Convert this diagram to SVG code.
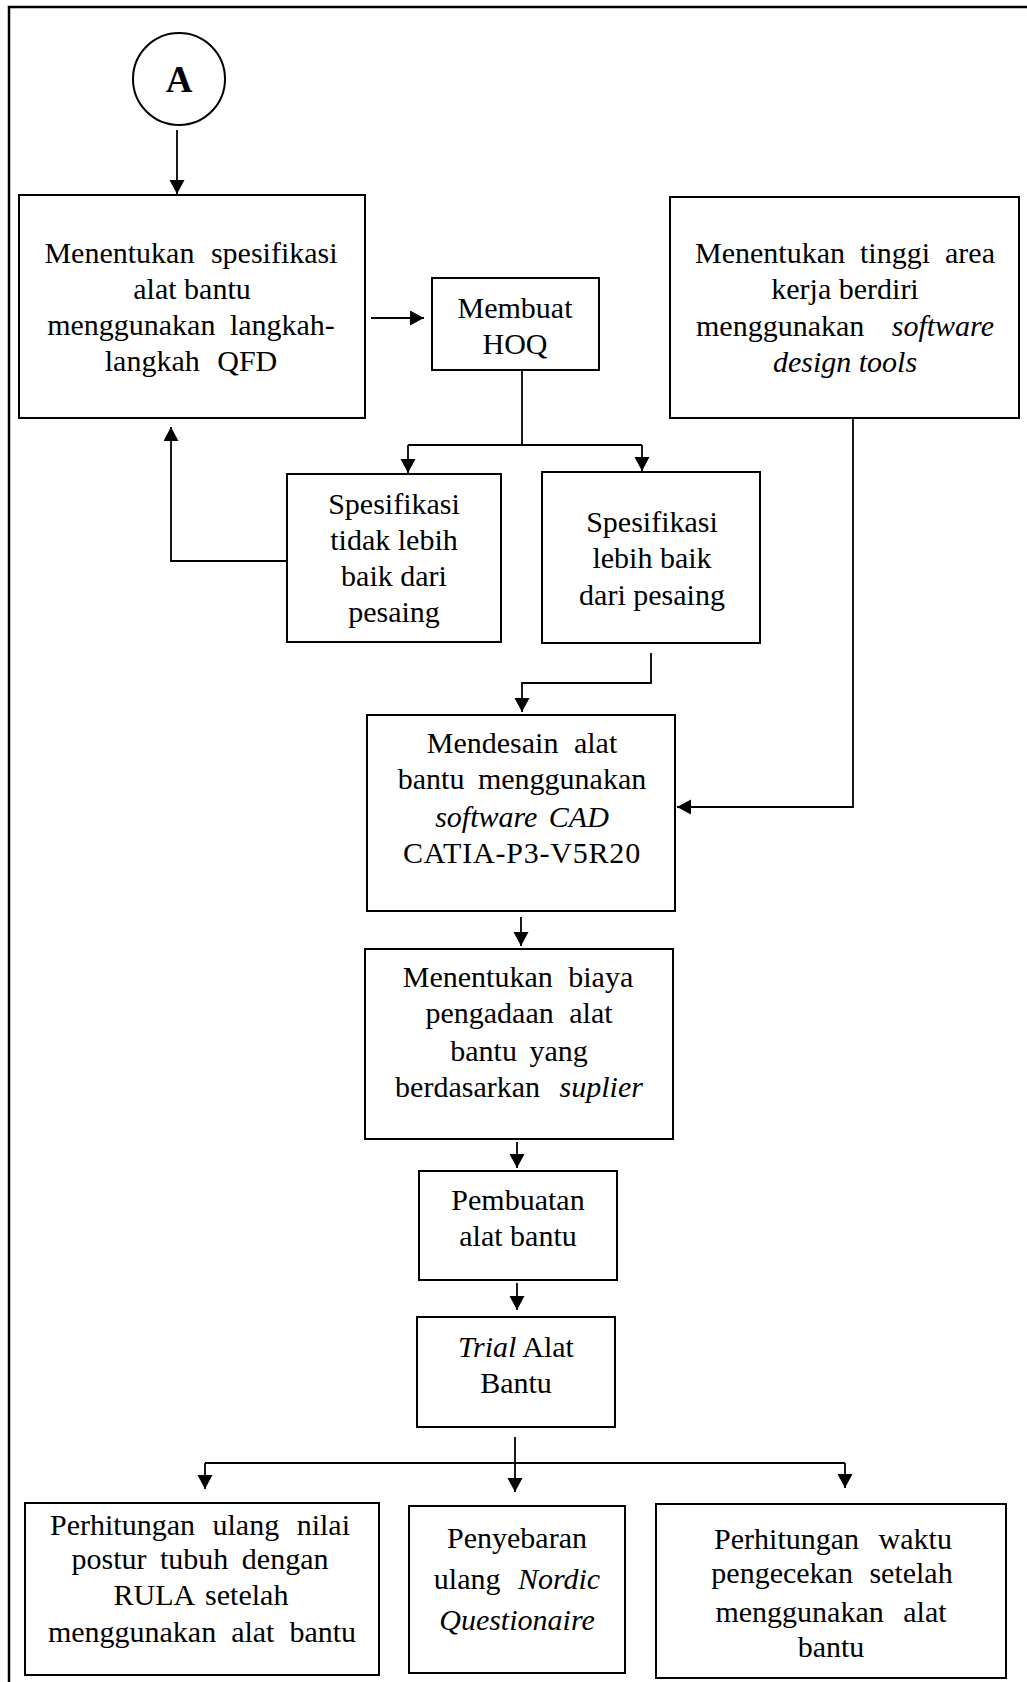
<svg xmlns="http://www.w3.org/2000/svg" width="1027" height="1682" viewBox="0 0 1027 1682">
<style>
.box{fill:#fff;stroke:#000;stroke-width:2}
.ln{fill:none;stroke:#000;stroke-width:1.8}
.t{font-family:"Liberation Serif","Times New Roman",serif;font-size:30px;fill:#000;text-anchor:middle}
.i{font-style:italic}
</style>
<defs>
<marker id="ah" markerUnits="userSpaceOnUse" markerWidth="16" markerHeight="16" refX="14" refY="7.5" orient="auto">
<path d="M0,0 L14,7.5 L0,15 z" fill="#000"/>
</marker>
</defs>
<rect x="0" y="0" width="1027" height="1682" fill="#fff"/>
<rect id="frame" x="9" y="7" width="1040" height="1700" fill="none" stroke="#000" stroke-width="2.5"/>

<g id="nodeA">
<circle cx="179" cy="79" r="46" fill="#fff" stroke="#000" stroke-width="2"/>
<text x="179" y="92" style="font-family:'Liberation Serif','Times New Roman',serif;font-size:37px;font-weight:bold;text-anchor:middle">A</text>
</g>

<g id="n1">
<rect class="box" x="19" y="195" width="346" height="223"/>
<text class="t"><tspan x="191" y="263" word-spacing="9">Menentukan spesifikasi</tspan><tspan x="192" y="299">alat bantu</tspan><tspan x="191" y="335" word-spacing="7">menggunakan langkah-</tspan><tspan x="191" y="371" word-spacing="10">langkah QFD</tspan></text>
</g>

<g id="n2">
<rect class="box" x="432" y="278" width="167" height="92"/>
<text class="t"><tspan x="515" y="318">Membuat</tspan><tspan x="515" y="354">HOQ</tspan></text>
</g>

<g id="n3">
<rect class="box" x="670" y="197" width="349" height="221"/>
<text class="t"><tspan x="845" y="263" word-spacing="7.5">Menentukan tinggi area</tspan><tspan x="845" y="299">kerja berdiri</tspan><tspan x="845" y="336" word-spacing="20">menggunakan <tspan class="i">software</tspan></tspan><tspan x="845" y="372" class="i">design tools</tspan></text>
</g>

<g id="n4">
<rect class="box" x="287" y="474" width="214" height="168"/>
<text class="t"><tspan x="394" y="514">Spesifikasi</tspan><tspan x="394" y="550">tidak lebih</tspan><tspan x="394" y="586">baik dari</tspan><tspan x="394" y="622">pesaing</tspan></text>
</g>

<g id="n5">
<rect class="box" x="542" y="472" width="218" height="171"/>
<text class="t"><tspan x="652" y="532">Spesifikasi</tspan><tspan x="652" y="568">lebih baik</tspan><tspan x="652" y="605">dari pesaing</tspan></text>
</g>

<g id="n6">
<rect class="box" x="367" y="715" width="308" height="196"/>
<text class="t"><tspan x="522" y="753" word-spacing="8">Mendesain alat</tspan><tspan x="522" y="789" word-spacing="6">bantu menggunakan</tspan><tspan x="522" y="827" class="i" word-spacing="4">software CAD</tspan><tspan x="522" y="863" letter-spacing="0.8">CATIA-P3-V5R20</tspan></text>
</g>

<g id="n7">
<rect class="box" x="365" y="949" width="308" height="190"/>
<text class="t"><tspan x="518" y="987" word-spacing="8">Menentukan biaya</tspan><tspan x="519" y="1023" word-spacing="8">pengadaan alat</tspan><tspan x="519" y="1061" word-spacing="5">bantu yang</tspan><tspan x="519" y="1097" word-spacing="12">berdasarkan <tspan class="i">suplier</tspan></tspan></text>
</g>

<g id="n8">
<rect class="box" x="419" y="1171" width="198" height="109"/>
<text class="t"><tspan x="518" y="1210">Pembuatan</tspan><tspan x="518" y="1246">alat bantu</tspan></text>
</g>

<g id="n9">
<rect class="box" x="417" y="1317" width="198" height="110"/>
<text class="t"><tspan x="516" y="1357"><tspan class="i">Trial</tspan> Alat</tspan><tspan x="516" y="1393">Bantu</tspan></text>
</g>

<g id="n10">
<rect class="box" x="25" y="1503" width="354" height="172"/>
<text class="t"><tspan x="200" y="1535" word-spacing="10">Perhitungan ulang nilai</tspan><tspan x="200" y="1569" word-spacing="6">postur tubuh dengan</tspan><tspan x="201" y="1605" word-spacing="4">RULA setelah</tspan><tspan x="202" y="1642" word-spacing="7.5">menggunakan alat bantu</tspan></text>
</g>

<g id="n11">
<rect class="box" x="409" y="1506" width="216" height="167"/>
<text class="t"><tspan x="517" y="1548">Penyebaran</tspan><tspan x="517" y="1589" word-spacing="10">ulang <tspan class="i">Nordic</tspan></tspan><tspan x="517" y="1630" class="i">Questionaire</tspan></text>
</g>

<g id="n12">
<rect class="box" x="656" y="1504" width="350" height="174"/>
<text class="t"><tspan x="833" y="1549" word-spacing="12">Perhitungan waktu</tspan><tspan x="832" y="1583" word-spacing="9">pengecekan setelah</tspan><tspan x="831" y="1622" word-spacing="12">menggunakan alat</tspan><tspan x="831" y="1657">bantu</tspan></text>
</g>

<g id="connectors">
<path class="ln" d="M177,130 V194" marker-end="url(#ah)"/>
<path class="ln" d="M371,318 H424" marker-end="url(#ah)"/>
<path class="ln" d="M522,370 V445"/>
<path class="ln" d="M408,445 H642"/>
<path class="ln" d="M408,445 V473" marker-end="url(#ah)"/>
<path class="ln" d="M642,445 V471" marker-end="url(#ah)"/>
<path class="ln" d="M287,561 H171 V427" marker-end="url(#ah)"/>
<path class="ln" d="M651,653 V683 H522 V712" marker-end="url(#ah)"/>
<path class="ln" d="M853,418 V807 H677" marker-end="url(#ah)"/>
<path class="ln" d="M521,917 V946" marker-end="url(#ah)"/>
<path class="ln" d="M517,1142 V1168" marker-end="url(#ah)"/>
<path class="ln" d="M517,1283 V1310" marker-end="url(#ah)"/>
<path class="ln" d="M515,1437 V1492" marker-end="url(#ah)"/>
<path class="ln" d="M205,1463 H845"/>
<path class="ln" d="M205,1463 V1489" marker-end="url(#ah)"/>
<path class="ln" d="M845,1463 V1488" marker-end="url(#ah)"/>
</g>
</svg>
